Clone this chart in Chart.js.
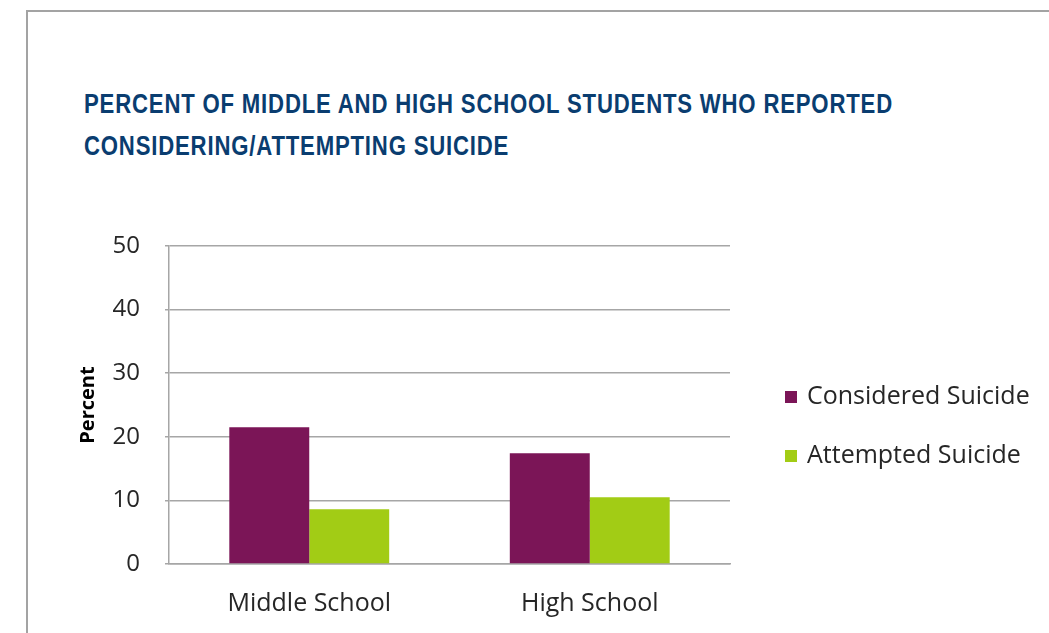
<!DOCTYPE html>
<html>
<head>
<meta charset="utf-8">
<script src="https://cdn.jsdelivr.net/npm/chart.js@4.4.0/dist/chart.umd.min.js"></script>
<style>
    html, body { margin: 0; padding: 0; background: #fff; overflow: hidden; }
    body { width: 1049px; height: 633px; position: relative; }
    .frame {
        position: absolute; left: 26px; top: 10px; right: 0; bottom: 0;
        border-top: 2px solid #a3a3a3; border-left: 2px solid #a3a3a3;
    }
    .title {
        position: absolute; left: 84px; top: 83px;
        font-family: "Liberation Sans", Arial, sans-serif;
        font-weight: bold; font-size: 27px; line-height: 42px;
        letter-spacing: 1px; color: #0a3d70; white-space: nowrap;
        transform: scaleX(0.82); transform-origin: 0 0;
    }
    .box { position: absolute; left: 0; top: 0; width: 1049px; height: 633px; }
</style>
</head>
<body>
<div class="frame"></div>
<div class="title">PERCENT OF MIDDLE AND HIGH SCHOOL STUDENTS WHO REPORTED<br>CONSIDERING/ATTEMPTING SUICIDE</div>
<div class="box"><canvas id="chart"></canvas></div>
<script>
const categories = ['Middle School', 'High School'];
const considered = [21.5, 17.4];
const attempted = [8.6, 10.5];
const seriesNames = ['Considered Suicide', 'Attempted Suicide'];
const seriesColors = ['#7b1557', '#a2cc15'];

const gridColor = '#a6a6a6';
const textColor = '#262626';

// legend drawn by hand: the built-in one gets squeezed by the layout
const sideLegend = {
    id: 'sideLegend',
    afterDraw: function (chart) {
        const c = chart.ctx;
        const area = chart.chartArea;
        const x = area.right + 55;
        c.save();
        c.font = '25px "Open Sans"';
        c.textBaseline = 'middle';
        c.textAlign = 'left';
        chart.data.datasets.forEach(function (ds, i) {
            const y = 397 + i * 59;
            c.fillStyle = ds.backgroundColor;
            c.fillRect(x, y - 6, 12, 12);
            c.fillStyle = textColor;
            c.fillText(ds.label, x + 22, y);
        });
        c.restore();
    }
};

const ctx = document.getElementById('chart');
const data = {
    labels: categories,
    datasets: [
        {
            label: seriesNames[0],
            data: considered,
            backgroundColor: seriesColors[0],
            barPercentage: 1,
            categoryPercentage: 0.57,
        },
        {
            label: seriesNames[1],
            data: attempted,
            backgroundColor: seriesColors[1],
            barPercentage: 1,
            categoryPercentage: 0.57,
        }
    ]
};

const config = {
    type: 'bar',
    data: data,
    plugins: [sideLegend],
    options: {
        responsive: true,
        maintainAspectRatio: false,
        animation: false,
        layout: {
            padding: { left: 76, top: 246, right: 319, bottom: 0 }
        },
        plugins: {
            legend: { display: false },
            tooltip: { enabled: false }
        },
        scales: {
            x: {
                grid: { display: false },
                border: { display: true, color: gridColor, width: 1.5 },
                ticks: {
                    color: textColor,
                    padding: 17,
                    font: { family: 'Open Sans', size: 25 }
                },
                afterFit: function (scale) { scale.height = 69; }
            },
            y: {
                min: 0,
                max: 50,
                ticks: {
                    stepSize: 10,
                    color: textColor,
                    padding: 25,
                    font: { family: 'Open Sans', size: 24 }
                },
                grid: { color: gridColor, lineWidth: 1.5, tickLength: 4 },
                border: { display: true, color: gridColor, width: 1.5 },
                title: {
                    display: true,
                    text: 'Percent',
                    color: '#000',
                    padding: 0,
                    font: { family: 'Open Sans', size: 20, weight: 'bold' }
                },
                afterFit: function (scale) { scale.width = 93; }
            }
        }
    }
};

_ = new Chart(ctx, config);
</script>
</body>
</html>
